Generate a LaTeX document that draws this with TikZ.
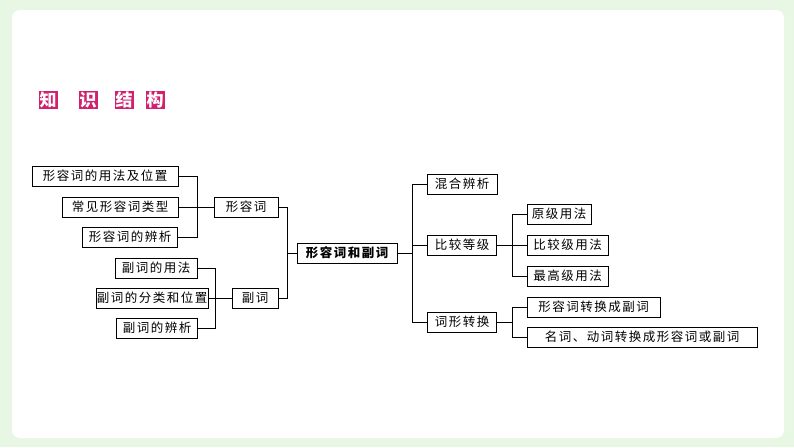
\documentclass[tikz,border=0pt]{standalone}
\usepackage{fontspec}
\newfontfamily\cjk[LetterSpace=12]{Noto Sans CJK SC}
\usepackage{tikz}
\usetikzlibrary{positioning, calc}
\definecolor{bggreen}{HTML}{E8F6E4}
\definecolor{titlered}{HTML}{D0206E}
\tikzstyle{item} = [rectangle, draw=black, fill=white, inner sep=1pt, minimum height=20pt, text centered, font=\cjk\fontsize{12.5}{14}\selectfont]
\tikzstyle{hub} = [item, font=\cjk\bfseries\fontsize{12.5}{14}\selectfont]
\tikzstyle{title} = [fill=titlered, text=white, font=\cjk\bfseries\fontsize{17}{17}\selectfont, inner sep=1pt, minimum height=15pt]
\tikzstyle{link} = [thin, black]

\begin{document}
\begin{tikzpicture}[x=1pt, y=-1pt]
        % background
        \fill[bggreen] (0,0) rectangle (794,447);
        \fill[white, rounded corners=8pt] (12,10) rectangle (784,438);
        \useasboundingbox (0,0) rectangle (794,447);

        % title
        \node[title] (T1) at (48,100) {知};
        \node[title] (T2) at (88,100) {识};
        \node[title] (T3) at (124,100) {结};
        \node[title] (T4) at (155,100) {构};

        % adjectives
        \node[item, minimum width=146pt] (AdjUse) at (105,176) {形容词的用法及位置};
        \node[item, minimum width=116pt] (AdjType) at (120,207) {常见形容词类型};
        \node[item, minimum width=95pt] (AdjDiff) at (130,237) {形容词的辨析};
        \node[item, minimum width=64pt] (Adj) at (246,207) {形容词};

        % adverbs
        \node[item, minimum width=82pt] (AdvUse) at (156,268) {副词的用法};
        \node[item, minimum width=92pt] (AdvType) at (152,298) {副词的分类和位置};
        \node[item, minimum width=81pt] (AdvDiff) at (157,328) {副词的辨析};
        \node[item, minimum width=46pt] (Adv) at (255,298) {副词};

        % main
        \node[hub, minimum width=100pt] (Main) at (347,253) {形容词和副词};

        % right side
        \node[item, minimum width=70pt] (Mixed) at (462,184) {混合辨析};
        \node[item, minimum width=69pt] (Degree) at (462,245) {比较等级};
        \node[item, minimum width=69pt] (Form) at (462,322) {词形转换};
        \node[item, anchor=west, minimum width=64pt] (Pos) at (527,214) {原级用法};
        \node[item, anchor=west, minimum width=81pt] (Comp) at (527,245) {比较级用法};
        \node[item, anchor=west, minimum width=81pt] (Sup) at (527,276) {最高级用法};
        \node[item, anchor=west, minimum width=133pt] (AdjToAdv) at (527,307) {形容词转换成副词};
        \node[item, anchor=west, minimum width=230pt] (NounVerb) at (527,337) {名词、动词转换成形容词或副词};

        % brackets
        \draw[link] (AdjUse.east) -| (197,207) -- (Adj.west);
        \draw[link] (AdjType.east) -- (Adj.west);
        \draw[link] (AdjDiff.east) -| (197,207);
        \draw[link] (AdvUse.east) -| (215,298) -- (Adv.west);
        \draw[link] (AdvType.east) -- (Adv.west);
        \draw[link] (AdvDiff.east) -| (215,298);
        \draw[link] (Adj.east) -| (287,253) -- (Main.west);
        \draw[link] (Adv.east) -| (287,253);
        \draw[link] (Main.east) -- (412,253) |- (Mixed.west);
        \draw[link] (412,253) |- (Degree.west);
        \draw[link] (412,253) |- (Form.west);
        \draw[link] (Degree.east) -- (512,245) |- (Pos.west);
        \draw[link] (512,245) -- (Comp.west);
        \draw[link] (512,245) |- (Sup.west);
        \draw[link] (Form.east) -- (512,322) |- (AdjToAdv.west);
        \draw[link] (512,322) |- (NounVerb.west);
    \end{tikzpicture}
\end{document}
